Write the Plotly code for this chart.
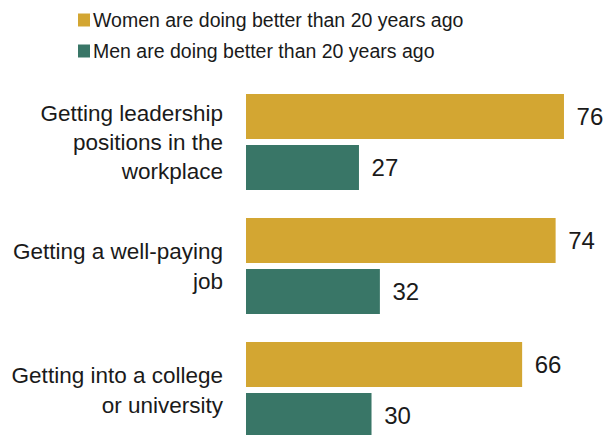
import plotly.graph_objects as go

# Survey items (top to bottom)
categories = [
    "Getting leadership<br>positions in the<br>workplace",
    "Getting a well-paying<br>job",
    "Getting into a college<br>or university",
]
women_values = [76, 74, 66]
men_values = [27, 32, 30]
series_names = [
    "Women are doing better than 20 years ago",
    "Men are doing better than 20 years ago",
]

GOLD = "#D3A632"
GREEN = "#397667"
FONT = "Liberation Sans, Arial, sans-serif"

W, H = 614, 435
L, R, T, B = 246, 0, 80, 0
PW, PH = W - L - R, H - T - B

ypos = list(range(len(categories)))

fig = go.Figure()
for name, vals, col in [(series_names[0], women_values, GOLD),
                        (series_names[1], men_values, GREEN)]:
    fig.add_trace(go.Bar(
        y=ypos, x=vals, orientation="h", name=name,
        marker=dict(color=col, line=dict(width=0)),
        text=["\u2009\u2009" + str(v) for v in vals],
        textposition="outside",
        textfont=dict(family=FONT, size=24, color="#1a1a1a"),
        cliponaxis=False,
        showlegend=False,
        hoverinfo="skip",
    ))

# Legend drawn as swatches + labels above the plot
def px_to_paper(px, py):
    return (px - L) / PW, (H - B - py) / PH

for i, (name, col) in enumerate([(series_names[0], GOLD), (series_names[1], GREEN)]):
    cy = 20 + i * 31
    x0, y0 = px_to_paper(78, cy - 6.5)
    x1, y1 = px_to_paper(90, cy + 6.5)
    fig.add_shape(type="rect", xref="paper", yref="paper",
                  x0=x0, x1=x1, y0=y1, y1=y0,
                  fillcolor=col, line=dict(width=0))
    tx, ty = px_to_paper(91, cy)
    fig.add_annotation(text=name, xref="paper", yref="paper",
                       x=tx, y=ty, xanchor="left", yanchor="middle",
                       showarrow=False,
                       font=dict(family=FONT, size=19.5, color="#1a1a1a"))

pitch = 124.0
top = -0.5
bottom = top + PH / pitch

fig.update_layout(
    width=W, height=H,
    margin=dict(l=L, r=R, t=T, b=B, pad=0),
    paper_bgcolor="white", plot_bgcolor="white",
    barmode="group", bargap=0.177, bargroupgap=0.118,
    xaxis=dict(range=[0, PW / 4.184], visible=False, fixedrange=True),
    yaxis=dict(
        range=[bottom, top],
        tickmode="array", tickvals=ypos, ticktext=categories,
        showgrid=False, zeroline=False, showline=False, ticks="",
        ticklabelstandoff=22,
        tickfont=dict(family=FONT, size=22.5, color="#1a1a1a"),
        fixedrange=True,
    ),
)

fig.write_html("out.html")
